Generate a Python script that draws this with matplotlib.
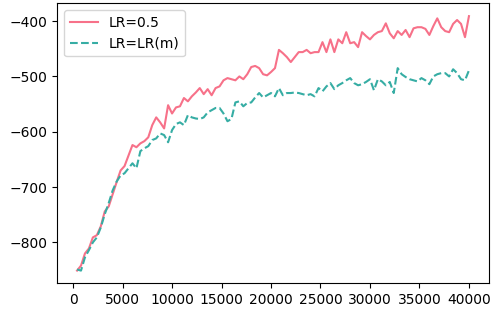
import matplotlib
matplotlib.use("Agg")
import matplotlib.pyplot as plt

# training steps (every 400)
steps = list(range(400, 40001, 400))

# LR=0.5 reward curve
lr_fixed = [-851, -842, -820, -811, -791, -787, -771, -744, -735, -713,
            -691, -670, -662, -643, -624, -628, -621, -617, -610, -588,
            -574, -583, -594, -552, -567, -556, -554, -539, -545, -536,
            -529, -521, -532, -523, -534, -521, -518, -507, -503, -505,
            -507, -500, -505, -496, -483, -481, -485, -496, -498, -492,
            -485, -452, -458, -465, -474, -465, -456, -456, -452, -458,
            -456, -456, -438, -456, -433, -456, -433, -440, -420, -440,
            -438, -447, -420, -427, -433, -425, -420, -418, -404, -422,
            -431, -418, -425, -416, -429, -413, -411, -411, -414, -425,
            -409, -395, -411, -418, -420, -405, -398, -405, -429, -391]

# LR=LR(m) reward curve
lr_m = [-849, -851, -827, -814, -800, -791, -773, -749, -729, -706,
        -690, -679, -675, -666, -657, -666, -635, -630, -626, -615,
        -612, -603, -606, -619, -597, -586, -583, -588, -570, -574,
        -576, -577, -574, -565, -561, -557, -557, -567, -581, -577,
        -547, -545, -554, -548, -547, -538, -530, -538, -534, -530,
        -536, -521, -534, -530, -530, -529, -530, -532, -534, -532,
        -536, -521, -527, -518, -512, -523, -516, -512, -507, -503,
        -512, -516, -514, -510, -505, -525, -505, -509, -516, -510,
        -530, -485, -496, -501, -505, -507, -509, -503, -507, -514,
        -500, -496, -494, -494, -500, -487, -494, -505, -507, -489]

fig = plt.figure(figsize=(4.91, 3.11), dpi=100)
ax = fig.add_axes([0.117, 0.089, 0.878, 0.900])

ax.plot(steps, lr_fixed, color="#f77189", linewidth=1.5, label="LR=0.5")
ax.plot(steps, lr_m, color="#36ada4", linewidth=1.5, linestyle="--", label="LR=LR(m)")

ax.set_xticks([0, 5000, 10000, 15000, 20000, 25000, 30000, 35000, 40000])
ax.set_yticks([-800, -700, -600, -500, -400])
ax.legend(loc="upper left")

plt.savefig("out.png", dpi=100)
